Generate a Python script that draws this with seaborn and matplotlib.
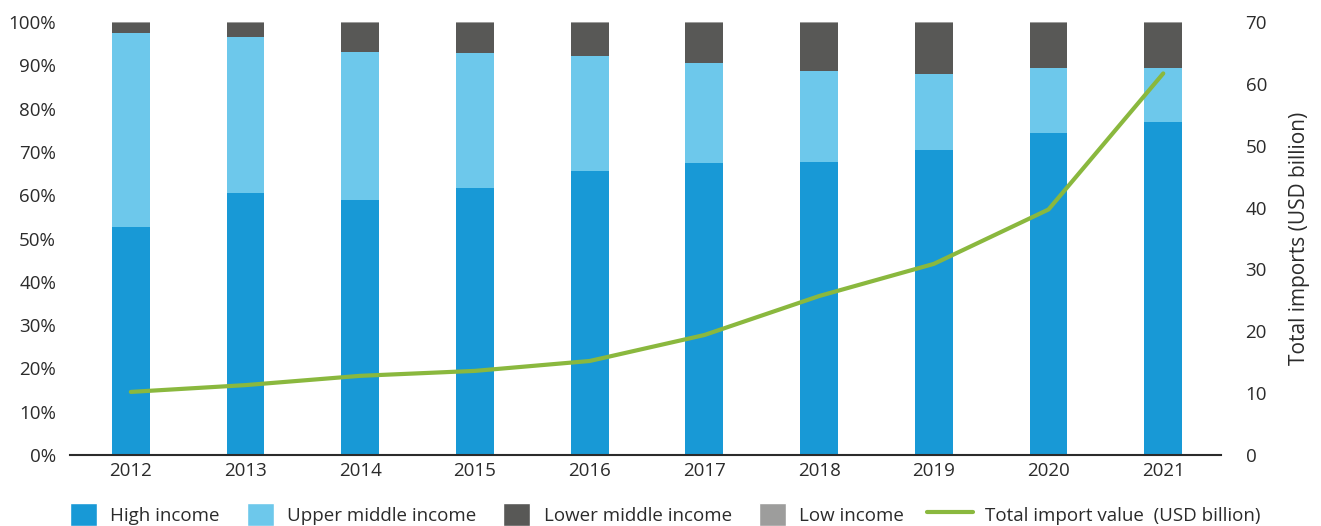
import numpy as np
import pandas as pd
import seaborn as sns
import matplotlib.pyplot as plt
from matplotlib.ticker import PercentFormatter, MultipleLocator
from matplotlib.patches import Patch
from matplotlib.lines import Line2D

years = ["2012", "2013", "2014", "2015", "2016", "2017", "2018", "2019", "2020", "2021"]
high_income = [52.7, 60.5, 58.9, 61.7, 65.6, 67.4, 67.7, 70.4, 74.4, 76.9]
upper_middle = [44.8, 36.0, 34.2, 31.1, 26.5, 23.1, 21.0, 17.6, 15.0, 12.5]
low_income = [0.3, 0.3, 0.3, 0.3, 0.3, 0.3, 0.3, 0.3, 0.3, 0.3]
lower_middle = [100 - h - u - l for h, u, l in zip(high_income, upper_middle, low_income)]
total_imports = [10.2, 11.3, 12.8, 13.6, 15.2, 19.4, 25.7, 30.9, 39.7, 61.7]

c_high = "#1899D6"
c_upper = "#6DC8EB"
c_lower = "#585856"
c_low = "#9D9D9C"
c_line = "#8AB83E"
text_color = "#2b2b2b"

sns.set_theme(style="white")
plt.rcParams["font.family"] = ["Open Sans", "DejaVu Sans"]
fs = 13.5

df = pd.DataFrame({
    "year": years,
    "high": np.array(high_income) / 100,
    "upper": np.array(upper_middle) / 100,
    "lower": np.array(lower_middle) / 100,
    "low": np.array(low_income) / 100,
})
# cumulative tops for stacked layers
df["c_low"] = df["high"] + df["upper"] + df["lower"] + df["low"]
df["c_lower"] = df["high"] + df["upper"] + df["lower"]
df["c_upper"] = df["high"] + df["upper"]
df["c_high"] = df["high"]

fig = plt.figure(figsize=(13.21, 5.26), dpi=100)
ax = fig.add_axes([0.053, 0.135, 0.871, 0.823])

bar_w = 0.33
for col, color in [("c_low", c_low), ("c_lower", c_lower), ("c_upper", c_upper), ("c_high", c_high)]:
    sns.barplot(data=df, x="year", y=col, color=color, width=bar_w,
                saturation=1, ax=ax, linewidth=0)

ax.set_xlim(-0.53, 9.5)
ax.set_ylim(0, 1)
ax.yaxis.set_major_locator(MultipleLocator(0.1))
ax.yaxis.set_major_formatter(PercentFormatter(1.0, decimals=0))
ax.set_xlabel("")
ax.set_ylabel("")
for s in ["top", "right", "left"]:
    ax.spines[s].set_visible(False)
ax.spines["bottom"].set_color(text_color)
ax.spines["bottom"].set_linewidth(1.5)
ax.tick_params(axis="both", length=0, labelsize=fs, colors=text_color)
ax.tick_params(axis="x", pad=5)
ax.tick_params(axis="y", pad=10)

ax2 = ax.twinx()
sns.lineplot(x=np.arange(len(years)), y=total_imports, color=c_line, linewidth=3,
             ax=ax2)
ax2.set_ylim(0, 70)
ax2.yaxis.set_major_locator(MultipleLocator(10))
for s in ["top", "right", "left", "bottom"]:
    ax2.spines[s].set_visible(False)
ax2.tick_params(axis="y", length=0, labelsize=fs, colors=text_color, pad=18)
ax2.set_ylabel("Total imports (USD billion)", fontsize=15, color=text_color, labelpad=16)
ax2.grid(False)
ax.grid(False)

# income group swatches
patch_handles = [
    Patch(facecolor=c_high, label="High income"),
    Patch(facecolor=c_upper, label="Upper middle income"),
    Patch(facecolor=c_lower, label="Lower middle income"),
    Patch(facecolor=c_low, label="Low income"),
]
leg1 = fig.legend(handles=patch_handles, loc="lower left", bbox_to_anchor=(0.053, 0.0),
                  ncol=4, frameon=False, fontsize=fs, handlelength=1.44, handleheight=1.5,
                  handletextpad=0.71, columnspacing=1.44, borderpad=0, borderaxespad=0)

# total imports line entry
line_handle = [Line2D([0], [0], color=c_line, linewidth=3,
                      label="Total import value  (USD billion)")]
leg2 = fig.legend(handles=line_handle, loc="lower left", bbox_to_anchor=(0.7017, 0.0),
                  ncol=1, frameon=False, fontsize=fs, handlelength=2.45, handleheight=1.5,
                  handletextpad=0.65, borderpad=0, borderaxespad=0)

for lg in (leg1, leg2):
    for t in lg.get_texts():
        t.set_color(text_color)

fig.savefig("out.png", dpi=100)
